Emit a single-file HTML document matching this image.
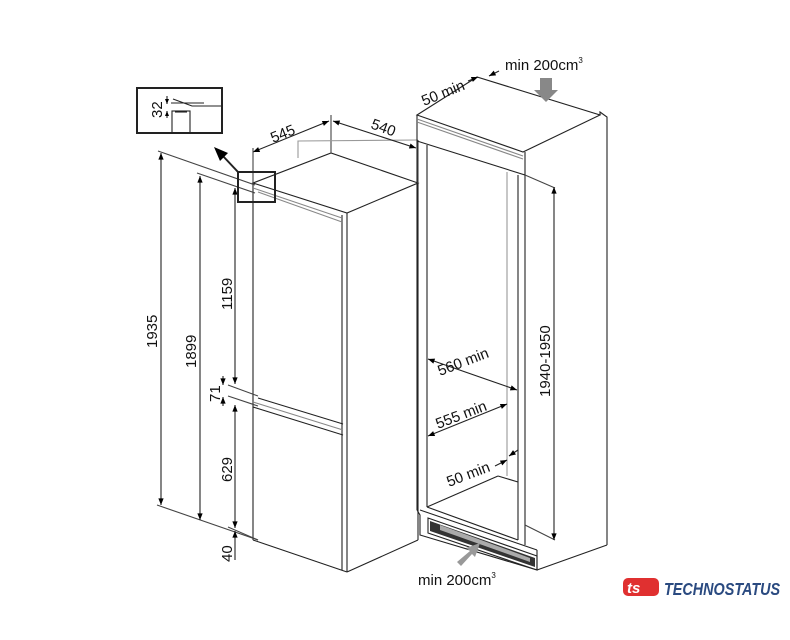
<!DOCTYPE html>
<html><head><meta charset="utf-8"><style>
body{margin:0;background:#fff}
svg{display:block;font-family:"Liberation Sans",sans-serif}
</style></head><body>
<svg width="790" height="640" viewBox="0 0 790 640" xmlns="http://www.w3.org/2000/svg">
<defs>
<marker id="a" viewBox="0 0 10 10" refX="10" refY="5" markerWidth="7" markerHeight="6" orient="auto-start-reverse"><path d="M0,1 L10,5 L0,9z" fill="#000"/></marker>
<marker id="b" viewBox="0 0 10 10" refX="10" refY="5" markerWidth="5" markerHeight="5" orient="auto-start-reverse" markerUnits="userSpaceOnUse"><path d="M0,1 L10,5 L0,9z" fill="#000"/></marker>
</defs>
<g fill="none" stroke="#222" stroke-width="1.1">
<polygon points="253,183 331,153 418,183 347,213" fill="#fff"/>
<line x1="347" y1="213" x2="347" y2="572"/>
<line x1="342" y1="215" x2="342" y2="570"/>
<line x1="418" y1="183" x2="418" y2="540"/>
<line x1="253" y1="183" x2="253" y2="540"/>
<line x1="347" y1="572" x2="418" y2="540"/>
<line x1="253" y1="540" x2="347" y2="572"/>
<line x1="253" y1="188" x2="342" y2="218" stroke="#888"/>
<line x1="258" y1="192" x2="342" y2="222" stroke="#888"/>
<line x1="258" y1="398" x2="343" y2="424"/>
<line x1="253" y1="407" x2="343" y2="435"/>
<line x1="253" y1="402" x2="343" y2="430" stroke="#888"/>
<line x1="331" y1="153" x2="331" y2="115" stroke="#444"/>
<polyline points="298,158 298,141 418,140" stroke="#999"/>
<line x1="158" y1="151" x2="255" y2="185" stroke="#444"/>
<line x1="197" y1="173" x2="255" y2="193" stroke="#444"/>
<line x1="157" y1="505" x2="258" y2="540" stroke="#444"/>
<line x1="228" y1="385" x2="258" y2="396" stroke="#444"/>
<line x1="228" y1="396" x2="258" y2="406" stroke="#444"/>
<line x1="228" y1="527" x2="258" y2="540" stroke="#444"/>
<line x1="161" y1="153" x2="161" y2="505" marker-start="url(#a)" marker-end="url(#a)"/>
<line x1="200" y1="176" x2="200" y2="520" marker-start="url(#a)" marker-end="url(#a)"/>
<line x1="235" y1="188" x2="235" y2="384" marker-start="url(#a)" marker-end="url(#a)"/>
<line x1="223" y1="376" x2="223" y2="385" marker-end="url(#a)"/>
<line x1="223" y1="406" x2="223" y2="397" marker-end="url(#a)"/>
<line x1="235" y1="405" x2="235" y2="528" marker-start="url(#a)" marker-end="url(#a)"/>
<line x1="235" y1="560" x2="235" y2="531" marker-end="url(#a)"/>
<line x1="253" y1="152" x2="329" y2="121" marker-start="url(#a)" marker-end="url(#a)"/>
<line x1="333" y1="121" x2="416" y2="148" marker-start="url(#a)" marker-end="url(#a)"/>
<line x1="253" y1="148" x2="253" y2="183" stroke="#444"/>
<line x1="418" y1="140" x2="418" y2="183" stroke="#444"/>
<rect x="137" y="88" width="85" height="45" stroke-width="2"/>
<rect x="238" y="172" width="37" height="30" stroke-width="2"/>
<line x1="238" y1="172" x2="222" y2="155" stroke-width="2"/>
<polyline points="173,99 192,106 222,106" />
<line x1="171" y1="103" x2="204" y2="103"/>
<rect x="172" y="111" width="18" height="22"/>
<line x1="175" y1="112" x2="187" y2="112"/>
<line x1="167" y1="96" x2="167" y2="104" marker-end="url(#b)"/>
<line x1="167" y1="118" x2="167" y2="111" marker-end="url(#b)"/>
<polygon points="417,115 477,77 600,115 523,152" fill="#fff"/>
<line x1="417" y1="115" x2="417" y2="141"/>
<polyline points="417,141 525,175 525,152"/>
<line x1="417" y1="119" x2="523" y2="156" stroke="#888"/>
<line x1="417" y1="122" x2="523" y2="159" stroke="#888"/>
<polyline points="600,115 600,112 607,117 607,545"/>
<line x1="525" y1="175" x2="525" y2="545"/>
<line x1="518" y1="175" x2="518" y2="540"/>
<line x1="507" y1="172" x2="507" y2="476" stroke="#999"/>
<line x1="427" y1="145" x2="427" y2="507"/>
<line x1="417" y1="141" x2="417" y2="510"/>
<line x1="427" y1="507" x2="498" y2="476"/>
<line x1="498" y1="476" x2="518" y2="482"/>
<line x1="420" y1="510" x2="537" y2="550"/>
<line x1="427" y1="507" x2="518" y2="540"/>
<polyline points="417,510 420,515 420,535 537,570"/>
<polygon points="428,518 537,556 537,570 428,533"/>
<polyline points="537,570 607,545"/>
<line x1="537" y1="550" x2="537" y2="570"/>
<line x1="525" y1="175" x2="555" y2="188" stroke="#444"/>
<line x1="525" y1="525" x2="555" y2="540" stroke="#444"/>
<line x1="554" y1="187" x2="554" y2="540" marker-start="url(#a)" marker-end="url(#a)"/>
<line x1="428" y1="359" x2="517" y2="390" marker-start="url(#a)" marker-end="url(#a)"/>
<line x1="428" y1="436" x2="507" y2="404" marker-start="url(#a)" marker-end="url(#a)"/>
<line x1="495" y1="466" x2="507" y2="460" marker-end="url(#a)"/>
<line x1="518" y1="450" x2="509" y2="456" marker-end="url(#a)"/>
<line x1="468" y1="81" x2="478" y2="77" marker-end="url(#a)"/>
<line x1="499" y1="71" x2="489" y2="76" marker-end="url(#a)"/>
</g>
<polygon points="214,147 228,153 220,161" fill="#000"/>
<polygon points="430,521 535,558 535,567 430,531" fill="#333"/>
<polygon points="440,525 530,558 530,562 440,530" fill="#aaa"/>
<polygon points="540,78 552,78 552,90 558,90 546,102 534,90 540,90" fill="#888"/>
<polygon points="457,562 470,551 466,548 480,543 475,557 472,554 461,566" fill="#999"/>
<g font-size="15" fill="#111">
<text transform="translate(157,348) rotate(-90)">1935</text>
<text transform="translate(196,368) rotate(-90)">1899</text>
<text transform="translate(232,310) rotate(-90)">1159</text>
<text transform="translate(220,402) rotate(-90)">71</text>
<text transform="translate(232,482) rotate(-90)">629</text>
<text transform="translate(232,562) rotate(-90)">40</text>
<text transform="translate(162,118) rotate(-90)">32</text>
<text transform="translate(550,397) rotate(-90)">1940-1950</text>
<text transform="translate(273,143) rotate(-22)">545</text>
<text transform="translate(370,128) rotate(20)">540</text>
<text transform="translate(424,106) rotate(-22)">50 min</text>
<text x="505" y="70">min 200cm<tspan font-size="8" dy="-7">3</tspan></text>
<text x="418" y="585">min 200cm<tspan font-size="8" dy="-7">3</tspan></text>
<text transform="translate(440,376) rotate(-21)">560 min</text>
<text transform="translate(438,429) rotate(-21)">555 min</text>
<text transform="translate(449,487) rotate(-21)">50 min</text>
</g>
<rect x="623" y="578" width="36" height="18" rx="5" fill="#e03030"/>
<text x="627" y="593" font-size="15" font-weight="bold" fill="#fff" font-style="italic">ts</text>
<text x="664" y="595" font-size="18" font-weight="bold" font-style="italic" fill="#2a4a80" transform="translate(664,0) scale(0.8,1) translate(-664,0)">TECHNOSTATUS</text>
</svg>
</body></html>
